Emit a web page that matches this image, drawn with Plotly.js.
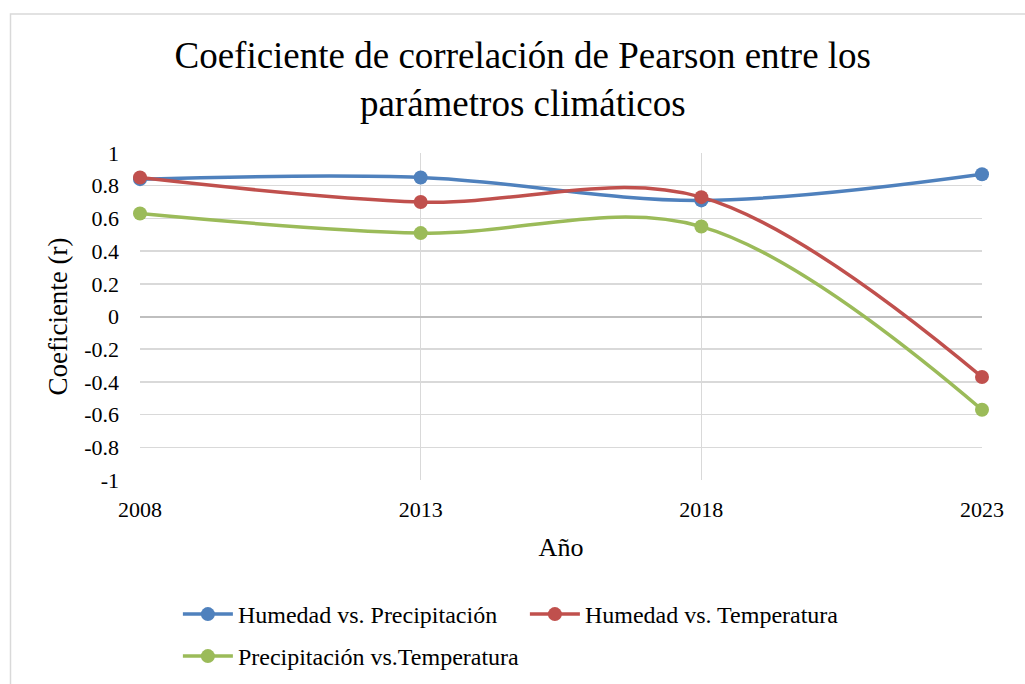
<!DOCTYPE html>
<html>
<head>
<meta charset="utf-8">
<script src="https://cdn.plot.ly/plotly-3.0.1.min.js"></script>
<style>html,body{margin:0;padding:0;background:#fff;}#chart{width:1025px;height:684px;}</style>
</head>
<body>
<div id="chart"></div>
<script>
const years = [2008, 2013, 2018, 2023];
const humPrec = [0.84, 0.85, 0.71, 0.87];
const humTemp = [0.85, 0.70, 0.73, -0.37];
const precTemp = [0.63, 0.51, 0.55, -0.57];
const seriesNames = ["Humedad vs. Precipitación", "Humedad vs. Temperatura", "Precipitación vs.Temperatura"];
const colors = ["#4F81BD", "#C0504D", "#9BBB59"];
const yTicks = [1, 0.8, 0.6, 0.4, 0.2, 0, -0.2, -0.4, -0.6, -0.8, -1];

const font = "'Liberation Serif', 'Times New Roman', serif";
const legendIds = ["legend", "legend", "legend2"];
const data = [humPrec, humTemp, precTemp].map((ys, i) => ({
  x: years, y: ys, name: seriesNames[i], type: "scatter", mode: "lines+markers",
  line: {color: colors[i], width: 3.5, shape: "spline", smoothing: 1},
  marker: {color: colors[i], size: 14},
  cliponaxis: false, legend: legendIds[i]
}));

const pw = 1025 - 140 - 43, ph = 684 - 153 - 204;
const px = v => (v - 140) / pw, py = v => (684 - 204 - v) / ph;

const legendBase = {orientation: "h", x: 0.045, xanchor: "left", yanchor: "top", yref: "container",
  font: {family: font, size: 24}, traceorder: "normal", entrywidth: 282, itemwidth: 50,
  bgcolor: "rgba(0,0,0,0)"};

const layout = {
  width: 1025, height: 684,
  margin: {l: 140, r: 43, t: 153, b: 204, autoexpand: false},
  paper_bgcolor: "#fff", plot_bgcolor: "#fff",
  font: {family: font, color: "#000", size: 22},
  title: {text: "Coeficiente de correlación de Pearson entre los<br>parámetros climáticos",
          font: {family: font, size: 37, color: "#000"}, x: 0.51, xanchor: "center", y: 0.901, yanchor: "top"},
  xaxis: {type: "linear", range: [2008, 2023], tickvals: years, ticktext: years.map(String),
          showgrid: true, gridcolor: "#d9d9d9", gridwidth: 1.5, zeroline: false, showline: false,
          ticks: "", tickfont: {family: font, size: 22}, ticklabelstandoff: 14, fixedrange: true,
          title: {text: "Año", font: {family: font, size: 26}, standoff: 16}},
  yaxis: {range: [-1, 1], tickvals: yTicks, ticktext: yTicks.map(String),
          showgrid: true, gridcolor: "#d9d9d9", gridwidth: 1.5,
          zeroline: true, zerolinecolor: "#bfbfbf", zerolinewidth: 2, showline: false,
          ticks: "", tickfont: {family: font, size: 22}, ticklabelstandoff: 20, fixedrange: true,
          title: {text: "Coeficiente (r)", font: {family: font, size: 27}, standoff: 8}},
  legend: Object.assign({}, legendBase, {y: 1 - 592 / 684}),
  legend2: Object.assign({}, legendBase, {y: 1 - 634 / 684}),
  showlegend: true,
  shapes: [{type: "rect", xref: "paper", yref: "paper", x0: px(10.5), x1: px(1030), y0: py(700), y1: py(14),
    line: {color: "#d9d9d9", width: 1.5}, layer: "below"}]
};

Plotly.newPlot("chart", data, layout, {displayModeBar: false, staticPlot: true});
</script>
</body>
</html>
